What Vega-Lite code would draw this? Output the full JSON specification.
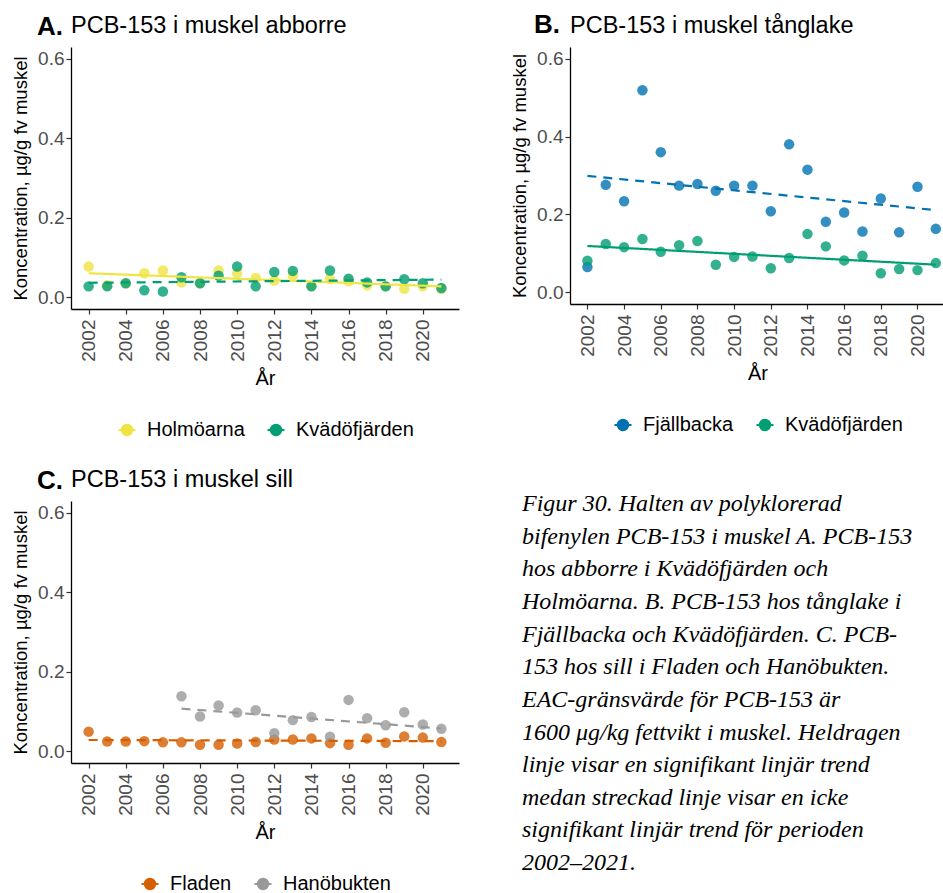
{
  "$schema": "https://vega.github.io/schema/vega-lite/v6.json",
  "padding": {"left": 11, "top": 11, "right": 0, "bottom": 0},
  "datasets": {
    "A_pts": [
      {"site": "Holmöarna", "year": 2002, "value": 0.077},
      {"site": "Holmöarna", "year": 2003, "value": 0.030},
      {"site": "Holmöarna", "year": 2004, "value": 0.035},
      {"site": "Holmöarna", "year": 2005, "value": 0.060},
      {"site": "Holmöarna", "year": 2006, "value": 0.067},
      {"site": "Holmöarna", "year": 2007, "value": 0.037},
      {"site": "Holmöarna", "year": 2008, "value": 0.035},
      {"site": "Holmöarna", "year": 2009, "value": 0.067},
      {"site": "Holmöarna", "year": 2010, "value": 0.060},
      {"site": "Holmöarna", "year": 2011, "value": 0.048},
      {"site": "Holmöarna", "year": 2012, "value": 0.042},
      {"site": "Holmöarna", "year": 2013, "value": 0.054},
      {"site": "Holmöarna", "year": 2014, "value": 0.028},
      {"site": "Holmöarna", "year": 2015, "value": 0.046},
      {"site": "Holmöarna", "year": 2016, "value": 0.040},
      {"site": "Holmöarna", "year": 2017, "value": 0.030},
      {"site": "Holmöarna", "year": 2018, "value": 0.027},
      {"site": "Holmöarna", "year": 2019, "value": 0.021},
      {"site": "Holmöarna", "year": 2020, "value": 0.027},
      {"site": "Holmöarna", "year": 2021, "value": 0.021},
      {"site": "Kvädöfjärden", "year": 2002, "value": 0.027},
      {"site": "Kvädöfjärden", "year": 2003, "value": 0.027},
      {"site": "Kvädöfjärden", "year": 2004, "value": 0.035},
      {"site": "Kvädöfjärden", "year": 2005, "value": 0.017},
      {"site": "Kvädöfjärden", "year": 2006, "value": 0.014},
      {"site": "Kvädöfjärden", "year": 2007, "value": 0.050},
      {"site": "Kvädöfjärden", "year": 2008, "value": 0.035},
      {"site": "Kvädöfjärden", "year": 2009, "value": 0.054},
      {"site": "Kvädöfjärden", "year": 2010, "value": 0.077},
      {"site": "Kvädöfjärden", "year": 2011, "value": 0.027},
      {"site": "Kvädöfjärden", "year": 2012, "value": 0.063},
      {"site": "Kvädöfjärden", "year": 2013, "value": 0.066},
      {"site": "Kvädöfjärden", "year": 2014, "value": 0.027},
      {"site": "Kvädöfjärden", "year": 2015, "value": 0.067},
      {"site": "Kvädöfjärden", "year": 2016, "value": 0.046},
      {"site": "Kvädöfjärden", "year": 2017, "value": 0.037},
      {"site": "Kvädöfjärden", "year": 2018, "value": 0.027},
      {"site": "Kvädöfjärden", "year": 2019, "value": 0.045},
      {"site": "Kvädöfjärden", "year": 2020, "value": 0.035},
      {"site": "Kvädöfjärden", "year": 2021, "value": 0.023}
    ],
    "A_trend": [
      {"site": "Holmöarna", "trend": "sig", "year": 2002, "value": 0.060},
      {"site": "Holmöarna", "trend": "sig", "year": 2021, "value": 0.027},
      {"site": "Kvädöfjärden", "trend": "ns", "year": 2002, "value": 0.036},
      {"site": "Kvädöfjärden", "trend": "ns", "year": 2021, "value": 0.044}
    ],
    "B_pts": [
      {"site": "Fjällbacka", "year": 2002, "value": 0.065},
      {"site": "Fjällbacka", "year": 2003, "value": 0.276},
      {"site": "Fjällbacka", "year": 2004, "value": 0.234},
      {"site": "Fjällbacka", "year": 2005, "value": 0.519},
      {"site": "Fjällbacka", "year": 2006, "value": 0.360},
      {"site": "Fjällbacka", "year": 2007, "value": 0.274},
      {"site": "Fjällbacka", "year": 2008, "value": 0.278},
      {"site": "Fjällbacka", "year": 2009, "value": 0.261},
      {"site": "Fjällbacka", "year": 2010, "value": 0.274},
      {"site": "Fjällbacka", "year": 2011, "value": 0.274},
      {"site": "Fjällbacka", "year": 2012, "value": 0.208},
      {"site": "Fjällbacka", "year": 2013, "value": 0.380},
      {"site": "Fjällbacka", "year": 2014, "value": 0.315},
      {"site": "Fjällbacka", "year": 2015, "value": 0.181},
      {"site": "Fjällbacka", "year": 2016, "value": 0.205},
      {"site": "Fjällbacka", "year": 2017, "value": 0.156},
      {"site": "Fjällbacka", "year": 2018, "value": 0.241},
      {"site": "Fjällbacka", "year": 2019, "value": 0.154},
      {"site": "Fjällbacka", "year": 2020, "value": 0.271},
      {"site": "Fjällbacka", "year": 2021, "value": 0.163},
      {"site": "Kvädöfjärden", "year": 2002, "value": 0.081},
      {"site": "Kvädöfjärden", "year": 2003, "value": 0.124},
      {"site": "Kvädöfjärden", "year": 2004, "value": 0.116},
      {"site": "Kvädöfjärden", "year": 2005, "value": 0.137},
      {"site": "Kvädöfjärden", "year": 2006, "value": 0.104},
      {"site": "Kvädöfjärden", "year": 2007, "value": 0.121},
      {"site": "Kvädöfjärden", "year": 2008, "value": 0.132},
      {"site": "Kvädöfjärden", "year": 2009, "value": 0.071},
      {"site": "Kvädöfjärden", "year": 2010, "value": 0.091},
      {"site": "Kvädöfjärden", "year": 2011, "value": 0.092},
      {"site": "Kvädöfjärden", "year": 2012, "value": 0.062},
      {"site": "Kvädöfjärden", "year": 2013, "value": 0.088},
      {"site": "Kvädöfjärden", "year": 2014, "value": 0.150},
      {"site": "Kvädöfjärden", "year": 2015, "value": 0.118},
      {"site": "Kvädöfjärden", "year": 2016, "value": 0.082},
      {"site": "Kvädöfjärden", "year": 2017, "value": 0.094},
      {"site": "Kvädöfjärden", "year": 2018, "value": 0.049},
      {"site": "Kvädöfjärden", "year": 2019, "value": 0.060},
      {"site": "Kvädöfjärden", "year": 2020, "value": 0.057},
      {"site": "Kvädöfjärden", "year": 2021, "value": 0.075}
    ],
    "B_trend": [
      {"site": "Fjällbacka", "trend": "ns", "year": 2002, "value": 0.299},
      {"site": "Fjällbacka", "trend": "ns", "year": 2021, "value": 0.211},
      {"site": "Kvädöfjärden", "trend": "sig", "year": 2002, "value": 0.119},
      {"site": "Kvädöfjärden", "trend": "sig", "year": 2021, "value": 0.071}
    ],
    "C_pts": [
      {"site": "Fladen", "year": 2002, "value": 0.049},
      {"site": "Fladen", "year": 2003, "value": 0.024},
      {"site": "Fladen", "year": 2004, "value": 0.024},
      {"site": "Fladen", "year": 2005, "value": 0.025},
      {"site": "Fladen", "year": 2006, "value": 0.022},
      {"site": "Fladen", "year": 2007, "value": 0.022},
      {"site": "Fladen", "year": 2008, "value": 0.016},
      {"site": "Fladen", "year": 2009, "value": 0.016},
      {"site": "Fladen", "year": 2010, "value": 0.019},
      {"site": "Fladen", "year": 2011, "value": 0.023},
      {"site": "Fladen", "year": 2012, "value": 0.029},
      {"site": "Fladen", "year": 2013, "value": 0.029},
      {"site": "Fladen", "year": 2014, "value": 0.032},
      {"site": "Fladen", "year": 2015, "value": 0.020},
      {"site": "Fladen", "year": 2016, "value": 0.016},
      {"site": "Fladen", "year": 2017, "value": 0.032},
      {"site": "Fladen", "year": 2018, "value": 0.021},
      {"site": "Fladen", "year": 2019, "value": 0.037},
      {"site": "Fladen", "year": 2020, "value": 0.034},
      {"site": "Fladen", "year": 2021, "value": 0.023},
      {"site": "Hanöbukten", "year": 2007, "value": 0.138},
      {"site": "Hanöbukten", "year": 2008, "value": 0.087},
      {"site": "Hanöbukten", "year": 2009, "value": 0.115},
      {"site": "Hanöbukten", "year": 2010, "value": 0.097},
      {"site": "Hanöbukten", "year": 2011, "value": 0.103},
      {"site": "Hanöbukten", "year": 2012, "value": 0.045},
      {"site": "Hanöbukten", "year": 2013, "value": 0.078},
      {"site": "Hanöbukten", "year": 2014, "value": 0.086},
      {"site": "Hanöbukten", "year": 2015, "value": 0.036},
      {"site": "Hanöbukten", "year": 2016, "value": 0.129},
      {"site": "Hanöbukten", "year": 2017, "value": 0.083},
      {"site": "Hanöbukten", "year": 2018, "value": 0.065},
      {"site": "Hanöbukten", "year": 2019, "value": 0.098},
      {"site": "Hanöbukten", "year": 2020, "value": 0.067},
      {"site": "Hanöbukten", "year": 2021, "value": 0.056}
    ],
    "C_trend": [
      {"site": "Fladen", "trend": "ns", "year": 2002, "value": 0.028},
      {"site": "Fladen", "trend": "ns", "year": 2021, "value": 0.025},
      {"site": "Hanöbukten", "trend": "ns", "year": 2007, "value": 0.107},
      {"site": "Hanöbukten", "trend": "ns", "year": 2021, "value": 0.057}
    ],
    "caption": [
      {"rad": 1, "text": "Figur 30. Halten av polyklorerad"},
      {"rad": 2, "text": "bifenylen PCB-153 i muskel A. PCB-153"},
      {"rad": 3, "text": "hos abborre i Kvädöfjärden och"},
      {"rad": 4, "text": "Holmöarna. B. PCB-153 hos tånglake i"},
      {"rad": 5, "text": "Fjällbacka och Kvädöfjärden. C. PCB-"},
      {"rad": 6, "text": "153 hos sill i Fladen och Hanöbukten."},
      {"rad": 7, "text": "EAC-gränsvärde för PCB-153 är"},
      {"rad": 8, "text": "1600 μg/kg fettvikt i muskel. Heldragen"},
      {"rad": 9, "text": "linje visar en signifikant linjär trend"},
      {"rad": 10, "text": "medan streckad linje visar en icke"},
      {"rad": 11, "text": "signifikant linjär trend för perioden"},
      {"rad": 12, "text": "2002–2021."}
    ]
  },
  "config": {
    "font": "Liberation Sans",
    "view": {"stroke": null},
    "axis": {
      "grid": false,
      "domainColor": "#000000",
      "domainWidth": 1.3,
      "tickColor": "#333333",
      "tickWidth": 1.2,
      "tickSize": 5,
      "labelColor": "#4d4d4d",
      "labelFont": "Liberation Sans",
      "labelFontSize": 19,
      "titleFont": "Liberation Sans",
      "titleColor": "#000000",
      "titleFontWeight": "normal"
    },
    "legend": {
      "orient": "bottom",
      "direction": "horizontal",
      "labelFont": "Liberation Sans",
      "labelFontSize": 20,
      "labelColor": "#000000",
      "symbolType": "M-1,0L1,0M-0.6,0A0.6,0.6 0 1,0 0.6,0A0.6,0.6 0 1,0 -0.6,0Z",
      "symbolSize": 289,
      "symbolStrokeWidth": 2.2,
      "symbolOpacity": 1,
      "labelOffset": 10,
      "columnPadding": 18,
      "offset": 31,
      "layout": {"bottom": {"anchor": "middle"}}
    },
    "title": {"font": "Liberation Sans", "color": "#000000", "anchor": "start", "frame": "group"}
  },
  "resolve": {"scale": {"x": "independent", "y": "independent", "color": "independent", "strokeDash": "independent"}, "legend": {"color": "independent"}},
  "spacing": 27,
  "vconcat": [
    {
      "spacing": 51,
      "resolve": {"scale": {"x": "independent", "y": "independent", "color": "independent", "strokeDash": "independent"}, "legend": {"color": "independent"}},
      "hconcat": [
        {
          "title": {"text": "A.", "fontSize": 26, "fontWeight": "bold", "dx": -34, "offset": -26},
          "resolve": {"scale": {"x": "independent", "y": "independent", "color": "independent", "strokeDash": "independent"}, "legend": {"color": "independent"}},
          "vconcat": [
            {
              "width": 388,
              "height": 262,
              "title": {"text": "PCB-153 i muskel abborre", "fontSize": 23.5, "fontWeight": "normal", "offset": 10},
              "layer": [
                {
                  "data": {"name": "A_pts"},
                  "mark": {"type": "point", "filled": true, "opacity": 0.8, "size": 110},
                  "encoding": {
                    "x": {"field": "year", "type": "quantitative", "scale": {"domain": [2001.05, 2021.95], "nice": false, "zero": false}, "axis": {"values": [2002, 2004, 2006, 2008, 2010, 2012, 2014, 2016, 2018, 2020], "format": "d", "labelAngle": 270, "labelPadding": 5, "title": "År", "titleFontSize": 20, "titlePadding": 7}},
                    "y": {"field": "value", "type": "quantitative", "scale": {"domain": [-0.03, 0.63], "nice": false, "zero": false}, "axis": {"values": [0, 0.2, 0.4, 0.6], "format": ".1f", "labelPadding": 2, "title": "Koncentration, µg/g fv muskel", "titleFontSize": 18.5, "titlePadding": 7}},
                    "color": {"field": "site", "type": "nominal", "scale": {"domain": ["Holmöarna", "Kvädöfjärden"], "range": ["#F0E442", "#009E73"]}, "legend": {"title": null}}
                  }
                },
                {
                  "data": {"name": "A_trend"},
                  "mark": {"type": "line", "strokeWidth": 2.2},
                  "encoding": {
                    "x": {"field": "year", "type": "quantitative"},
                    "y": {"field": "value", "type": "quantitative"},
                    "color": {"field": "site", "type": "nominal"},
                    "strokeDash": {"field": "trend", "type": "nominal", "scale": {"domain": ["sig", "ns"], "range": [[1, 0], [9, 7]]}, "legend": null}
                  }
                }
              ]
            }
          ]
        },
        {
          "title": {"text": "B.", "fontSize": 26, "fontWeight": "bold", "dx": -36, "offset": -24},
          "resolve": {"scale": {"x": "independent", "y": "independent", "color": "independent", "strokeDash": "independent"}, "legend": {"color": "independent"}},
          "vconcat": [
            {
              "width": 375,
              "height": 257,
              "title": {"text": "PCB-153 i muskel tånglake", "fontSize": 23.5, "fontWeight": "normal", "offset": 10},
              "layer": [
                {
                  "data": {"name": "B_pts"},
                  "mark": {"type": "point", "filled": true, "opacity": 0.8, "size": 110},
                  "encoding": {
                    "x": {"field": "year", "type": "quantitative", "scale": {"domain": [2001.05, 2021.5], "nice": false, "zero": false}, "axis": {"values": [2002, 2004, 2006, 2008, 2010, 2012, 2014, 2016, 2018, 2020], "format": "d", "labelAngle": 270, "labelPadding": 5, "title": "År", "titleFontSize": 20, "titlePadding": 7}},
                    "y": {"field": "value", "type": "quantitative", "scale": {"domain": [-0.03, 0.63], "nice": false, "zero": false}, "axis": {"values": [0, 0.2, 0.4, 0.6], "format": ".1f", "labelPadding": 2, "title": "Koncentration, µg/g fv muskel", "titleFontSize": 18.5, "titlePadding": 7}},
                    "color": {"field": "site", "type": "nominal", "scale": {"domain": ["Fjällbacka", "Kvädöfjärden"], "range": ["#0072B2", "#009E73"]}, "legend": {"title": null}}
                  }
                },
                {
                  "data": {"name": "B_trend"},
                  "mark": {"type": "line", "strokeWidth": 2.2},
                  "encoding": {
                    "x": {"field": "year", "type": "quantitative"},
                    "y": {"field": "value", "type": "quantitative"},
                    "color": {"field": "site", "type": "nominal"},
                    "strokeDash": {"field": "trend", "type": "nominal", "scale": {"domain": ["sig", "ns"], "range": [[1, 0], [9, 7]]}, "legend": null}
                  }
                }
              ]
            }
          ]
        }
      ]
    },
    {
      "spacing": 63,
      "resolve": {"scale": {"x": "independent", "y": "independent", "color": "independent", "strokeDash": "independent"}, "legend": {"color": "independent"}},
      "hconcat": [
        {
          "title": {"text": "C.", "fontSize": 26, "fontWeight": "bold", "dx": -34, "offset": -26},
          "resolve": {"scale": {"x": "independent", "y": "independent", "color": "independent", "strokeDash": "independent"}, "legend": {"color": "independent"}},
          "vconcat": [
            {
              "width": 388,
              "height": 262,
              "title": {"text": "PCB-153 i muskel sill", "fontSize": 23.5, "fontWeight": "normal", "offset": 10},
              "layer": [
                {
                  "data": {"name": "C_pts"},
                  "mark": {"type": "point", "filled": true, "opacity": 0.8, "size": 110},
                  "encoding": {
                    "x": {"field": "year", "type": "quantitative", "scale": {"domain": [2001.05, 2021.95], "nice": false, "zero": false}, "axis": {"values": [2002, 2004, 2006, 2008, 2010, 2012, 2014, 2016, 2018, 2020], "format": "d", "labelAngle": 270, "labelPadding": 5, "title": "År", "titleFontSize": 20, "titlePadding": 7}},
                    "y": {"field": "value", "type": "quantitative", "scale": {"domain": [-0.03, 0.63], "nice": false, "zero": false}, "axis": {"values": [0, 0.2, 0.4, 0.6], "format": ".1f", "labelPadding": 2, "title": "Koncentration, µg/g fv muskel", "titleFontSize": 18.5, "titlePadding": 7}},
                    "color": {"field": "site", "type": "nominal", "scale": {"domain": ["Fladen", "Hanöbukten"], "range": ["#D55E00", "#999999"]}, "legend": {"title": null}}
                  }
                },
                {
                  "data": {"name": "C_trend"},
                  "mark": {"type": "line", "strokeWidth": 2.2},
                  "encoding": {
                    "x": {"field": "year", "type": "quantitative"},
                    "y": {"field": "value", "type": "quantitative"},
                    "color": {"field": "site", "type": "nominal"},
                    "strokeDash": {"field": "trend", "type": "nominal", "scale": {"domain": ["sig", "ns"], "range": [[1, 0], [9, 7]]}, "legend": null}
                  }
                }
              ]
            }
          ]
        },
        {
          "width": 420,
          "height": 362,
          "data": {"name": "caption"},
          "mark": {"type": "text", "align": "left", "baseline": "middle", "font": "Liberation Serif", "fontStyle": "italic", "fontSize": 24, "color": "#000000", "limit": 420, "ellipsis": ""},
          "encoding": {
            "x": {"datum": 0, "type": "quantitative", "scale": {"domain": [0, 1]}, "axis": null},
            "y": {"field": "rad", "type": "quantitative", "scale": {"domain": [0.9, 12], "reverse": true, "nice": false, "zero": false}, "axis": null},
            "text": {"field": "text"}
          }
        }
      ]
    }
  ]
}
